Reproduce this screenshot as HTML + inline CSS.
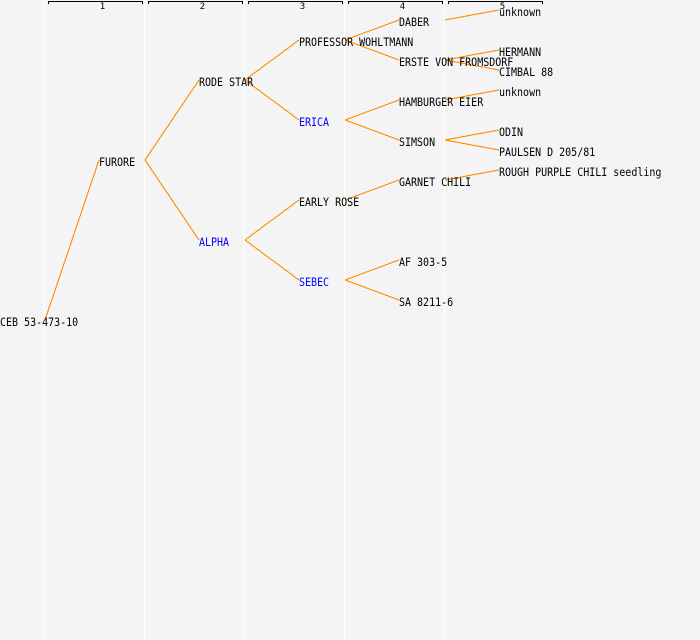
<!DOCTYPE html>
<html><head><meta charset="utf-8"><style>
html,body{margin:0;padding:0;background:#f4f4f4}
svg{display:block}
text{font-family:"DejaVu Sans Mono","Liberation Mono",monospace;font-size:10px;fill:#000}
text.b{fill:#00f}
text.h{font-size:9px;text-anchor:middle}
</style></head><body>
<svg width="700" height="640" viewBox="0 0 700 640" xmlns="http://www.w3.org/2000/svg" shape-rendering="crispEdges">
<rect width="700" height="640" fill="#f4f4f4"/>
<g stroke="#fff" stroke-width="1">
<line x1="44.5" y1="0" x2="44.5" y2="640"/><line x1="144.5" y1="0" x2="144.5" y2="640"/><line x1="244.5" y1="0" x2="244.5" y2="640"/><line x1="344.5" y1="0" x2="344.5" y2="640"/><line x1="444.5" y1="0" x2="444.5" y2="640"/>
</g>
<g fill="none" stroke="#000" stroke-width="1">
<path d="M48.5 4V1.5H142.5V4"/><path d="M148.5 4V1.5H242.5V4"/><path d="M248.5 4V1.5H342.5V4"/><path d="M348.5 4V1.5H442.5V4"/><path d="M448.5 4V1.5H542.5V4"/>
</g>
<g stroke="#ff8c00" stroke-width="1.1" fill="none">
<path d="M45 320L99 160M145 160L199 80M145 160L199 240"/>
<path d="M245 80L299 40M245 80L299 120M245 240L299 200M245 240L299 280"/>
<path d="M345 40L399 20M345 40L399 60M345 120L399 100M345 120L399 140M345 200L399 180M345 280L399 260M345 280L399 300"/>
<path d="M445 20L499 10M445 60L499 50M445 60L499 70M445 100L499 90M445 140L499 130M445 140L499 150M445 180L499 170"/>
</g>
<text class="h" x="102.5" y="9">1</text><text class="h" x="202.5" y="9">2</text><text class="h" x="302.5" y="9">3</text><text class="h" x="402.5" y="9">4</text><text class="h" x="502.5" y="9">5</text>
<text transform="matrix(1 0 0 1.15 0 326)">CEB 53-473-10</text>
<text transform="matrix(1 0 0 1.15 99 166)">FURORE</text>
<text transform="matrix(1 0 0 1.15 199 86)">RODE STAR</text>
<text transform="matrix(1 0 0 1.15 199 246)" class="b">ALPHA</text>
<text transform="matrix(1 0 0 1.15 299 46)">PROFESSOR WOHLTMANN</text>
<text transform="matrix(1 0 0 1.15 299 126)" class="b">ERICA</text>
<text transform="matrix(1 0 0 1.15 299 206)">EARLY ROSE</text>
<text transform="matrix(1 0 0 1.15 299 286)" class="b">SEBEC</text>
<text transform="matrix(1 0 0 1.15 399 26)">DABER</text>
<text transform="matrix(1 0 0 1.15 399 66)">ERSTE VON FROMSDORF</text>
<text transform="matrix(1 0 0 1.15 399 106)">HAMBURGER EIER</text>
<text transform="matrix(1 0 0 1.15 399 146)">SIMSON</text>
<text transform="matrix(1 0 0 1.15 399 186)">GARNET CHILI</text>
<text transform="matrix(1 0 0 1.15 399 266)">AF 303-5</text>
<text transform="matrix(1 0 0 1.15 399 306)">SA 8211-6</text>
<text transform="matrix(1 0 0 1.15 499 16)">unknown</text>
<text transform="matrix(1 0 0 1.15 499 56)">HERMANN</text>
<text transform="matrix(1 0 0 1.15 499 76)">CIMBAL 88</text>
<text transform="matrix(1 0 0 1.15 499 96)">unknown</text>
<text transform="matrix(1 0 0 1.15 499 136)">ODIN</text>
<text transform="matrix(1 0 0 1.15 499 156)">PAULSEN D 205/81</text>
<text transform="matrix(1 0 0 1.15 499 176)">ROUGH PURPLE CHILI seedling</text>
</svg>
</body></html>
